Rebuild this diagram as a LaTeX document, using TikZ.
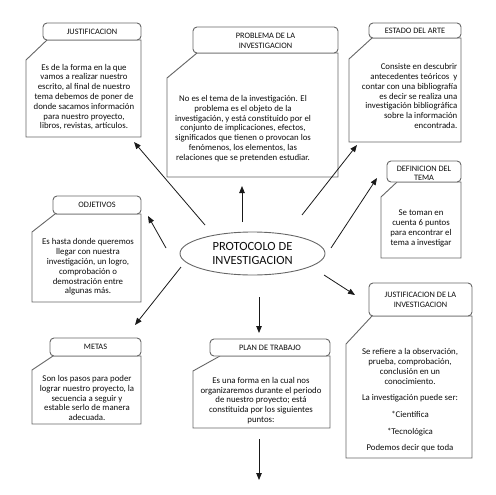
\documentclass[tikz,border=0pt]{standalone}
\usepackage{fontspec}
\setmainfont{Carlito}
\usetikzlibrary{arrows.meta,shapes.geometric}
\begin{document}
\begin{tikzpicture}[x=1pt,y=-1pt,
  boxline/.style={draw=black!60, line width=0.9pt, fill=white},
  headbox/.style={boxline, rounded corners=4pt},
  bodytxt/.style={font=\fontsize{8.8}{9.8}\selectfont, text=black!95, align=center, inner sep=0pt},
  headtxt/.style={font=\fontsize{8.3}{10}\selectfont, text=black!95, align=center, inner sep=0pt},
  conn/.style={draw=black!90, line width=0.8pt, -{Triangle[length=7pt,width=5.5pt]}}]
\useasboundingbox (0,0) rectangle (495,495);

% JUSTIFICACION
\draw[boxline] (47,40) -- (141,40) -- (141,137) -- (26,137) -- (26,60) -- cycle;
\draw[headbox] (43,23) rectangle (141,40);
\node[headtxt] (h1) at (92,31.5) {JUSTIFICACION};
\node[bodytxt] (b1) at (84,97) {Es de la forma en la que\\vamos a realizar nuestro\\escrito, al final de nuestro\\tema debemos de poner de\\donde sacamos información\\para nuestro proyecto,\\libros, revistas, artículos.};

% PROBLEMA
\draw[boxline] (197,53) -- (338,53) -- (338,177) -- (167,177) -- (167,78) -- cycle;
\draw[headbox] (193,27) rectangle (338,53);
\node[headtxt] (h2) at (265.5,40.5) {PROBLEMA DE LA\\INVESTIGACION};
\node[bodytxt] (b2) at (243,128.5) {No es el tema de la investigación. El\\problema es el objeto de la\\investigación, y está constituido por el\\conjunto de implicaciones, efectos,\\significados que tienen o provocan los\\fenómenos, los elementos, las\\relaciones que se pretenden estudiar.};

% ESTADO DEL ARTE
\draw[boxline] (372,38) -- (461,38) -- (461,142) -- (349,142) -- (349,59) -- cycle;
\draw[headbox] (369,23) rectangle (461,38);
\node[headtxt] (h3) at (415,30.5) {ESTADO DEL ARTE};
\node[bodytxt, align=right, anchor=east] (b3) at (457.5,96) {Consiste en descubrir\\antecedentes teóricos \ y\\contar con una bibliografía\\es decir se realiza una\\investigación bibliográfica\\sobre la información\\encontrada.};

% DEFINICION DEL TEMA
\draw[boxline] (397,182) -- (461,182) -- (461,258) -- (381,258) -- (381,197) -- cycle;
\draw[headbox] (387,161) rectangle (461,182);
\node[headtxt, font=\fontsize{8.3}{9}\selectfont] (h4) at (424,173.5) {DEFINICION DEL\\TEMA};
\node[bodytxt] (b4) at (421,228.5) {Se toman en\\cuenta 6 puntos\\para encontrar el\\tema a investigar};

% OBJETIVOS
\draw[boxline] (55,214) -- (141,214) -- (141,302) -- (32,302) -- (32,232) -- cycle;
\draw[headbox] (53,196) rectangle (141,214);
\node[headtxt] (h5) at (97,205) {ODJETIVOS};
\node[bodytxt] (b5) at (88,267) {Es hasta donde queremos\\llegar con nuestra\\investigación, un logro,\\comprobación o\\demostración entre\\algunas más.};

% METAS
\draw[boxline] (53,356) -- (141,356) -- (141,424) -- (32,424) -- (32,370) -- cycle;
\draw[headbox] (50,338) rectangle (141,356);
\node[headtxt] (h6) at (95.5,347) {METAS};
\node[bodytxt] (b6) at (87,398) {Son los pasos para poder\\lograr nuestro proyecto, la\\secuencia a seguir y\\estable serlo de manera\\adecuada.};

% PLAN DE TRABAJO
\draw[boxline] (220,356) -- (330,356) -- (330,428) -- (193,428) -- (193,371) -- cycle;
\draw[headbox] (210,339) rectangle (330,356);
\node[headtxt] (h7) at (270,347.5) {PLAN DE TRABAJO};
\node[bodytxt] (b7) at (261,400.5) {Es una forma en la cual nos\\organizaremos durante el periodo\\de nuestro proyecto; está\\constituida por los siguientes\\puntos:};

% JUSTIFICACION DE LA INVESTIGACION
\draw[boxline] (372,316) -- (472,316) -- (472,458) -- (346,458) -- (346,344) -- cycle;
\draw[headbox] (369,283) rectangle (472,316);
\node[headtxt] (h8) at (420.5,300) {JUSTIFICACION DE LA\\INVESTIGACION};
\node[bodytxt] (b8) at (410,400.5) {Se refiere a la observación,\\prueba, comprobación,\\conclusión en un\\conocimiento.\\[6.8pt]La investigación puede ser:\\[6.8pt]*Científica\\[6.8pt]*Tecnológica\\[6.8pt]Podemos decir que toda};

% central ellipse
\node[ellipse, draw=black!60, line width=0.9pt, minimum width=145pt, minimum height=43pt, inner sep=0pt,
      font=\fontsize{12.5}{13.5}\selectfont, text=black!95, align=center] (prot) at (252.5,253.5) {PROTOCOLO DE\\INVESTIGACION};

% connector end points
\coordinate (t1) at (205,225); \coordinate (e1) at (134,142);
\coordinate (t2) at (242,222); \coordinate (e2) at (242,186);
\coordinate (t3) at (302,215); \coordinate (e3) at (357,145);
\coordinate (t4) at (331,248); \coordinate (e4) at (377,178);
\coordinate (t5) at (166,248); \coordinate (e5) at (148,216);
\coordinate (t6) at (181,267); \coordinate (e6) at (135,325);
\coordinate (t7) at (259,297); \coordinate (e7) at (259,333);
\coordinate (t8) at (324,275); \coordinate (e8) at (355,295);
\coordinate (t9) at (259,439); \coordinate (e9) at (259,480);

\foreach \i in {1,...,9} \draw[conn] (t\i) -- (e\i);
\end{tikzpicture}
\end{document}
